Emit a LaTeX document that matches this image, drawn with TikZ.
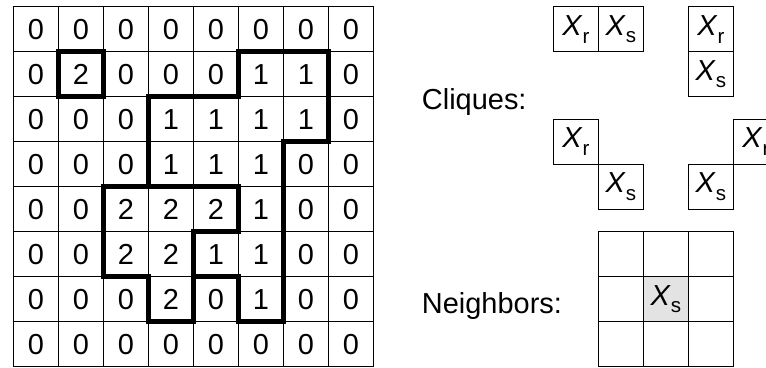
\documentclass[tikz,border=0pt]{standalone}
\usepackage{fontspec}
\setmainfont{Liberation Sans}
\usetikzlibrary{positioning}
\definecolor{siteshade}{HTML}{E3E3E3}
\newcommand{\subidx}[1]{\raisebox{-0.27em}{\fontsize{13}{13}\selectfont #1}}
\newcommand{\Xr}{\textit{X}\subidx{r}}
\newcommand{\Xs}{\textit{X}\subidx{s}}

\begin{document}
\begin{tikzpicture}[
      cell/.style={draw, line width=0.6pt, minimum size=1cm, inner sep=0pt,
        outer sep=0pt, font=\fontsize{18.3}{22}\selectfont},
      region/.style={line width=3pt, line join=miter},
      caption/.style={anchor=base west, inner sep=0pt,
        font=\fontsize{18.3}{22}\selectfont}
    ]
      \useasboundingbox (0,0) rectangle (17.022,-8.156);
      % label field
      \foreach \row [count=\r from 0] in {{0,0,0,0,0,0,0,0},{0,2,0,0,0,1,1,0},
          {0,0,0,1,1,1,1,0},{0,0,0,1,1,1,0,0},{0,0,2,2,2,1,0,0},
          {0,0,2,2,1,1,0,0},{0,0,0,2,0,1,0,0},{0,0,0,0,0,0,0,0}}
        \foreach \v [count=\c from 0] in \row
          \node[cell] (g-\r-\c) at (0.796+\c,-0.648-\r) {\v};
      \begin{scope}[shift={(0.296,-0.148)}, yscale=-1]
        \draw[region] (1,1) rectangle (2,2);
        \draw[region] (5,1) -- (7,1) -- (7,3) -- (6,3) -- (6,7) -- (5,7)
          -- (5,6) -- (4,6) -- (4,5) -- (5,5) -- (5,4) -- (3,4) -- (3,2)
          -- (5,2) -- cycle;
        \draw[region] (2,4) -- (5,4) -- (5,5) -- (4,5) -- (4,7) -- (3,7)
          -- (3,6) -- (2,6) -- cycle;
      \end{scope}
      % cliques
      \node[caption] (cliques) at (9.37,-2.429) {Cliques:};
      \node[cell] (h-r) at (12.796,-0.648) {\Xr};
      \node[cell, right=0pt of h-r] (h-s) {\Xs};
      \node[cell] (v-r) at (15.796,-0.648) {\Xr};
      \node[cell, below=0pt of v-r] (v-s) {\Xs};
      \node[cell] (d-r) at (12.796,-3.148) {\Xr};
      \node[cell, below right=0pt and 0pt of d-r] (d-s) {\Xs};
      \node[cell] (a-r) at (16.796,-3.148) {\Xr};
      \node[cell, below left=0pt and 0pt of a-r] (a-s) {\Xs};
      % neighbourhood
      \node[caption] (neighbors) at (9.37,-6.956) {Neighbors:};
      \foreach \i in {0,1,2}
        \foreach \j in {0,1,2}
          \node[cell] (n-\i-\j) at (13.796+\j,-5.648-\i) {};
      \node[cell, fill=siteshade] (site) at (n-1-1) {\Xs};
    \end{tikzpicture}
\end{document}
